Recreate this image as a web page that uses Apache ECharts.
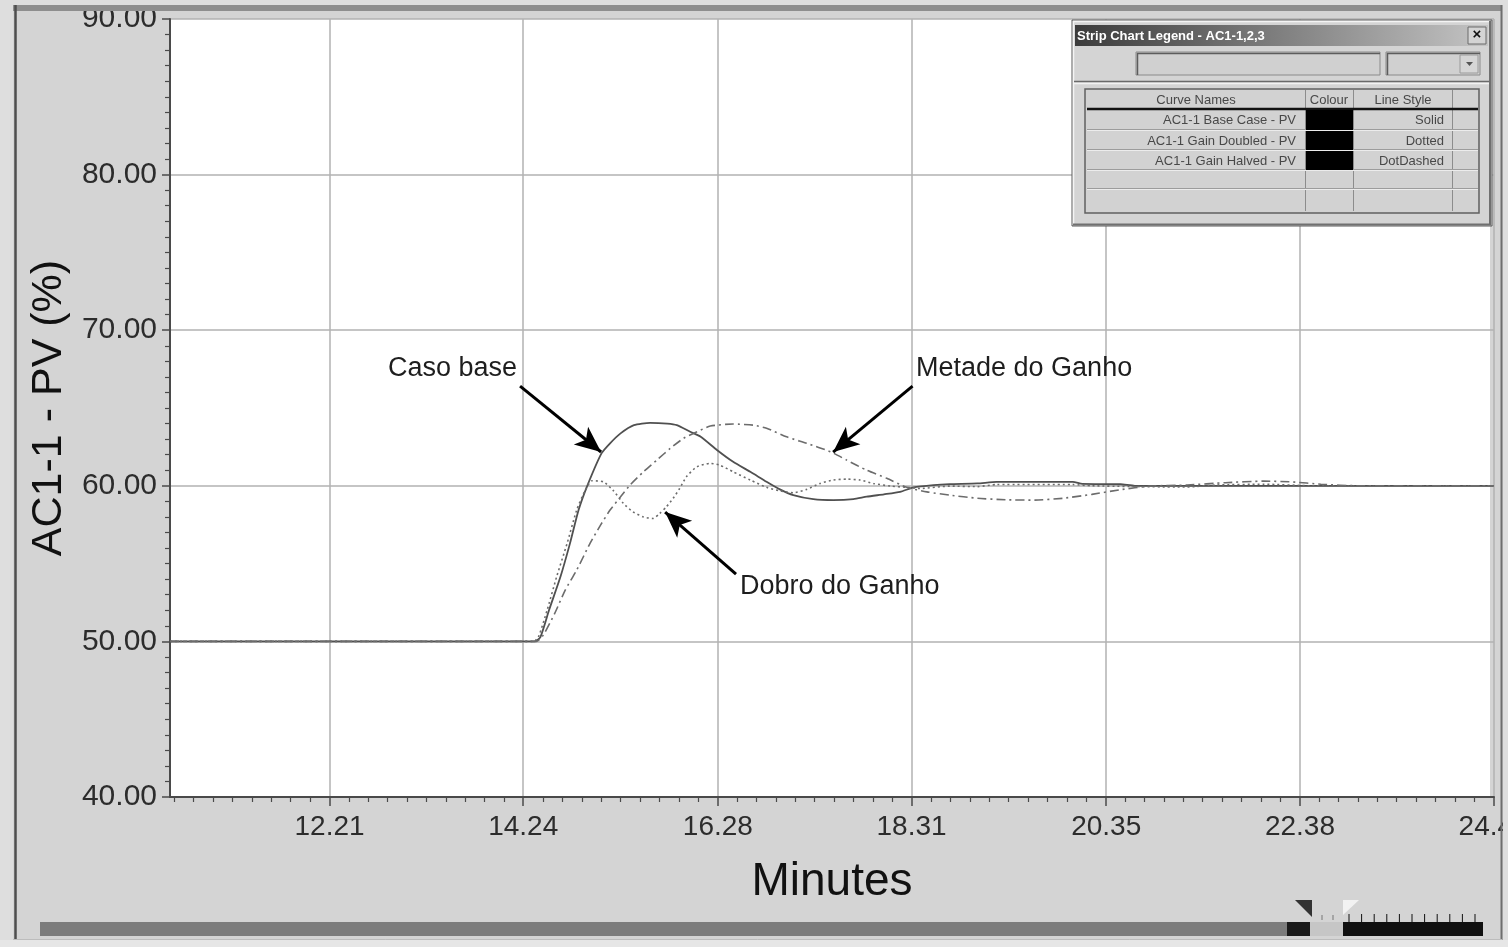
<!DOCTYPE html>
<html>
<head>
<meta charset="utf-8">
<script src="https://cdn.jsdelivr.net/npm/echarts@6/dist/echarts.min.js"></script>
<style>
  html, body { margin: 0; padding: 0; background: #d4d4d4; }
  #chart { width: 1508px; height: 947px; }
</style>
</head>
<body>
<div id="chart"></div>
<script>
// Strip chart: AC1-1 PV response for three controller gains

// time axis (minutes)
const T_MIN = 10.538;
const T_MAX = 24.414;
const xTickValues = [12.21, 14.24, 16.28, 18.31, 20.35, 22.38, 24.41];

// value axis (%)
const Y_MIN = 40, Y_MAX = 90, Y_STEP = 10;

// AC1-1 Base Case - PV (solid)
const baseT = [10.54, 14.36, 14.42, 14.51, 14.63, 14.73, 14.82, 14.91, 15.06, 15.15, 15.26, 15.40, 15.57, 15.75, 15.85, 15.99, 16.10, 16.27, 16.44, 16.62, 16.79, 16.93, 17.07, 17.28, 17.49, 17.70, 17.84, 18.02, 18.19, 18.33, 18.54, 18.71, 19.00, 19.20, 20.00, 20.10, 20.50, 20.65, 21.50, 24.41];
const baseV = [50, 50, 50.28, 52.0, 54.15, 56.3, 58.44, 59.98, 62.08, 62.73, 63.37, 63.9, 64.05, 64.0, 63.9, 63.47, 63.15, 62.3, 61.54, 60.9, 60.26, 59.77, 59.4, 59.14, 59.08, 59.14, 59.3, 59.45, 59.61, 59.9, 60.05, 60.11, 60.15, 60.25, 60.25, 60.12, 60.1, 60.0, 60.0, 60.0];

// AC1-1 Gain Doubled - PV (dotted)
const doubledT = [10.54, 14.35, 14.40, 14.49, 14.59, 14.70, 14.80, 14.89, 14.96, 15.08, 15.18, 15.29, 15.39, 15.50, 15.60, 15.67, 15.74, 15.81, 15.88, 15.95, 16.06, 16.20, 16.30, 16.44, 16.62, 16.79, 16.93, 17.07, 17.21, 17.35, 17.49, 17.63, 17.77, 17.91, 18.09, 18.26, 18.40, 18.71, 19.00, 19.20, 20.00, 20.20, 21.20, 21.50, 22.00, 22.50, 23.50, 24.41];
const doubledV = [50, 50, 50.29, 52.0, 54.15, 56.3, 58.44, 59.72, 60.32, 60.26, 59.72, 58.87, 58.33, 58.0, 57.9, 58.22, 58.65, 59.19, 59.83, 60.58, 61.22, 61.44, 61.33, 60.9, 60.37, 59.9, 59.68, 59.55, 59.77, 60.15, 60.37, 60.43, 60.37, 60.15, 59.98, 59.9, 59.83, 59.98, 59.95, 60.08, 60.08, 60.0, 59.92, 60.05, 60.1, 60.0, 59.97, 60.0];

// AC1-1 Gain Halved - PV (dot-dashed)
const halvedT = [10.54, 14.38, 14.45, 14.57, 14.68, 14.80, 14.94, 15.05, 15.15, 15.26, 15.36, 15.50, 15.64, 15.78, 15.92, 16.06, 16.20, 16.44, 16.65, 16.79, 17.00, 17.21, 17.46, 17.63, 17.84, 18.05, 18.26, 18.47, 18.71, 19.00, 19.30, 19.60, 19.90, 20.20, 20.50, 20.80, 21.20, 21.60, 22.00, 22.30, 22.60, 23.00, 24.41];
const halvedV = [50, 50, 50.4, 51.8, 53.3, 54.58, 56.3, 57.47, 58.44, 59.29, 60.05, 60.9, 61.65, 62.4, 63.05, 63.47, 63.84, 63.97, 63.9, 63.7, 63.15, 62.73, 62.19, 61.65, 61.0, 60.48, 59.9, 59.61, 59.4, 59.2, 59.1, 59.08, 59.2, 59.45, 59.75, 59.98, 60.05, 60.2, 60.3, 60.25, 60.1, 60.0, 60.0];

// annotation arrows: tail [t, v] -> head [t, v]
const noteLabels = ['Caso base', 'Metade do Ganho', 'Dobro do Ganho'];
const noteTails = [[14.207, 66.41], [18.32, 66.41], [16.47, 54.32]];
const noteHeads = [[15.056, 62.17], [17.488, 62.17], [15.727, 58.31]];

// legend table
const legendTitle = 'Strip Chart Legend - AC1-1,2,3';
const legendHeaders = ['Curve Names', 'Colour', 'Line Style'];
const legendNames = ['AC1-1 Base Case - PV', 'AC1-1 Gain Doubled - PV', 'AC1-1 Gain Halved - PV'];
const legendStyles = ['Solid', 'Dotted', 'DotDashed'];

const FONT = "'Liberation Sans', Arial, sans-serif";

function pairs(ts, vs) { return ts.map((t, i) => [t, vs[i]]); }

// minor ticks: ten divisions between labelled ticks
const minorStep = (xTickValues[xTickValues.length - 1] - xTickValues[0]) / ((xTickValues.length - 1) * 10);
const xMinorValues = [];
for (let v = xTickValues[0] - minorStep; v > T_MIN; v -= minorStep) xMinorValues.push(v);
for (let i = 1; i < (xTickValues.length - 1) * 10; i++) {
  if (i % 10) xMinorValues.push(xTickValues[0] + i * minorStep);
}

const chart = echarts.init(document.getElementById('chart'), null, { renderer: 'canvas' });

const arrowData = noteTails.map((tail, i) => [
  { coord: tail, symbol: 'none' },
  { coord: noteHeads[i], symbol: 'arrow', symbolSize: [17, 26] }
]);

// window chrome and legend panel
const graphics = [];
function rect(x, y, w, h, fill, z, stroke, lw) {
  graphics.push({ type: 'rect', z: z, silent: true, shape: { x: x, y: y, width: w, height: h },
    style: { fill: fill, stroke: stroke || null, lineWidth: lw || 0 } });
}
function line(x1, y1, x2, y2, color, w, z) {
  graphics.push({ type: 'line', z: z, silent: true, shape: { x1: x1, y1: y1, x2: x2, y2: y2 },
    style: { stroke: color, lineWidth: w } });
}
function text(str, x, y, font, color, align, z) {
  graphics.push({ type: 'text', z: z, silent: true, x: x, y: y,
    style: { text: str, font: font, fill: color, align: align || 'left', verticalAlign: 'middle' } });
}

// right-hand gray margin inside the plot frame
rect(1490, 11, 12, 786, '#d4d4d4', 1);

// outer frame
rect(0, 0, 1508, 5, '#dedede', 100);
rect(13, 5, 1489, 6, '#8e8e8e', 100);
rect(0, 0, 13, 947, '#dedede', 100);
line(15.5, 5, 15.5, 940, '#4e4e4e', 2.5, 100);
rect(1503, 0, 5, 947, '#dedede', 100);
line(1501.5, 5, 1501.5, 940, '#6e6e6e', 2, 100);
rect(0, 940, 1508, 7, '#e6e6e6', 100);
line(13, 939.5, 1502, 939.5, '#bcbcbc', 1, 100);

// bottom scroll bar
rect(40, 922, 1248, 14, '#7c7c7c', 100);
rect(1287, 922, 23, 14, '#1a1a1a', 100);
rect(1310, 922, 34, 14, '#c6c6c6', 100);
line(1322, 915, 1322, 920, '#777', 1, 100);
line(1333, 915, 1333, 920, '#777', 1, 100);
rect(1343, 922, 140, 14, '#111', 100);
for (let x = 1349; x < 1482; x += 12.6) line(x, 914, x, 922, '#111', 1, 100);
graphics.push({ type: 'polygon', z: 101, silent: true, shape: { points: [[1295, 900], [1312, 900], [1312, 917]] }, style: { fill: '#333' } });
graphics.push({ type: 'polygon', z: 101, silent: true, shape: { points: [[1343, 900], [1359, 900], [1343, 915]] }, style: { fill: '#f2f2f2' } });

// legend window
const LZ = 110;
rect(1072, 20, 420, 206, '#d4d4d4', LZ, '#5a5a5a', 1);
line(1073, 21.5, 1490, 21.5, '#f4f4f4', 1.5, LZ);
line(1073.5, 21, 1073.5, 225, '#f4f4f4', 1.5, LZ);
line(1490, 21, 1490, 225, '#707070', 2, LZ);
line(1073, 224.5, 1491, 224.5, '#707070', 2, LZ);
graphics.push({ type: 'rect', z: LZ + 1, silent: true, shape: { x: 1075, y: 25, width: 413, height: 21 },
  style: { fill: new echarts.graphic.LinearGradient(0, 0, 1, 0, [
    { offset: 0, color: '#3c3c3c' }, { offset: 1, color: '#c4c4c4' }]) } });
text(legendTitle, 1077, 36, 'bold 13px ' + FONT, '#ffffff', 'left', LZ + 2);
rect(1468, 27, 18, 17, '#d4d4d4', LZ + 2, '#6a6a6a', 1);
text('\u00d7', 1477, 35, 'bold 15px ' + FONT, '#111', 'center', LZ + 3);
// name field and dropdown
rect(1136, 52, 244, 23, '#d0d0d0', LZ + 1, '#8a8a8a', 1);
line(1137, 53.5, 1380, 53.5, '#5c5c5c', 1.5, LZ + 2);
line(1137.5, 53, 1137.5, 75, '#5c5c5c', 1.5, LZ + 2);
rect(1386, 52, 94, 23, '#d0d0d0', LZ + 1, '#8a8a8a', 1);
line(1387, 53.5, 1480, 53.5, '#5c5c5c', 1.5, LZ + 2);
line(1387.5, 53, 1387.5, 75, '#5c5c5c', 1.5, LZ + 2);
rect(1460, 55, 18, 18, '#d6d6d6', LZ + 2, '#9a9a9a', 1);
graphics.push({ type: 'polygon', z: LZ + 3, silent: true, shape: { points: [[1466, 62], [1473, 62], [1469.5, 66]] }, style: { fill: '#555' } });
line(1074, 81.5, 1489, 81.5, '#6a6a6a', 1.5, LZ + 1);
line(1074, 83.5, 1489, 83.5, '#f2f2f2', 1.5, LZ + 1);
// table
rect(1085, 89, 394, 124, '#d2d2d2', LZ + 1, '#606060', 1.5);
const colX = [1087, 1305, 1353, 1452, 1478];
const rowY = [90, 109, 130, 150, 170, 189, 210];
for (let i = 1; i < 4; i++) line(colX[i] + 0.5, 90, colX[i] + 0.5, 211, '#8c8c8c', 1, LZ + 2);
for (let j = 2; j < 6; j++) {
  line(1087, rowY[j] - 0.5, 1478, rowY[j] - 0.5, '#9c9c9c', 1, LZ + 2);
  line(1087, rowY[j] + 0.5, 1478, rowY[j] + 0.5, '#ececec', 1, LZ + 2);
}
line(1087, 109, 1478, 109, '#111', 2.5, LZ + 3);
text(legendHeaders[0], 1196, 100, '13px ' + FONT, '#484848', 'center', LZ + 3);
text(legendHeaders[1], 1329, 100, '13px ' + FONT, '#484848', 'center', LZ + 3);
text(legendHeaders[2], 1403, 100, '13px ' + FONT, '#484848', 'center', LZ + 3);
for (let i = 0; i < legendNames.length; i++) {
  const cy = (rowY[i + 1] + rowY[i + 2]) / 2 + 1;
  text(legendNames[i], 1296, cy, '13px ' + FONT, '#484848', 'right', LZ + 3);
  rect(1306, rowY[i + 1] + 1, 47, rowY[i + 2] - rowY[i + 1] - 1, '#000', LZ + 3);
  text(legendStyles[i], 1444, cy, '13px ' + FONT, '#484848', 'right', LZ + 3);
}

// annotation labels
const notePos = [[388, 369], [916, 369], [740, 587]];
noteLabels.forEach((s, i) => text(s, notePos[i][0], notePos[i][1], '27px ' + FONT, '#1e1e1e', 'left', 20));

const axisColor = '#4a4a4a';
const gridColor = '#b2b2b2';

chart.setOption({
  animation: false,
  backgroundColor: '#d4d4d4',
  grid: { left: 170, right: 14, top: 19, bottom: 150, outerBoundsMode: 'none', containLabel: false,
    show: true, backgroundColor: '#ffffff', borderWidth: 0 },
  xAxis: [{
    type: 'value', min: T_MIN, max: T_MAX, z: 3,
    name: 'Minutes', nameLocation: 'middle', nameGap: 62,
    nameTextStyle: { fontSize: 46, color: '#111', fontFamily: FONT },
    axisLine: { show: true, onZero: false, lineStyle: { color: axisColor, width: 2 } },
    axisTick: { show: true, length: 9, customValues: xTickValues, lineStyle: { color: axisColor, width: 1.5 } },
    axisLabel: { customValues: xTickValues, formatter: v => v.toFixed(2), fontSize: 28, color: '#2c2c2c', margin: 16, fontFamily: FONT },
    splitLine: { show: true, lineStyle: { color: gridColor, width: 1.5 } }
  }, {
    type: 'value', min: T_MIN, max: T_MAX, position: 'bottom', z: 3,
    axisLine: { show: false },
    axisTick: { show: true, length: 5, customValues: xMinorValues, lineStyle: { color: axisColor, width: 1.2 } },
    axisLabel: { show: false },
    splitLine: { show: false }
  }],
  yAxis: {
    type: 'value', min: Y_MIN, max: Y_MAX, interval: Y_STEP, z: 3,
    name: 'AC1-1 - PV (%)', nameLocation: 'middle', nameGap: 96,
    nameTextStyle: { fontSize: 43, color: '#111', fontFamily: FONT },
    axisLine: { show: true, lineStyle: { color: axisColor, width: 2 } },
    axisTick: { show: true, length: 8, lineStyle: { color: axisColor, width: 1.5 } },
    minorTick: { show: true, splitNumber: 10, length: 5, lineStyle: { color: axisColor, width: 1.2 } },
    axisLabel: { formatter: v => v.toFixed(2), fontSize: 30, color: '#2c2c2c', margin: 13, fontFamily: FONT },
    splitLine: { show: true, lineStyle: { color: gridColor, width: 1.5 } }
  },
  series: [{
    name: legendNames[0], type: 'line', data: pairs(baseT, baseV), showSymbol: false, smooth: 0.2,
    lineStyle: { color: '#505050', width: 1.8, type: 'solid' }, z: 4,
    markLine: {
      silent: true, animation: false, label: { show: false }, emphasis: { disabled: true },
      lineStyle: { color: '#000', width: 3, type: 'solid' },
      data: arrowData
    }
  }, {
    name: legendNames[1], type: 'line', data: pairs(doubledT, doubledV), showSymbol: false, smooth: 0.2,
    lineStyle: { color: '#6c6c6c', width: 1.6, type: [2, 3] }, z: 4
  }, {
    name: legendNames[2], type: 'line', data: pairs(halvedT, halvedV), showSymbol: false, smooth: 0.2,
    lineStyle: { color: '#6c6c6c', width: 1.6, type: [9, 4, 2, 4] }, z: 4
  }],
  graphic: { elements: graphics }
});
</script>
</body>
</html>
